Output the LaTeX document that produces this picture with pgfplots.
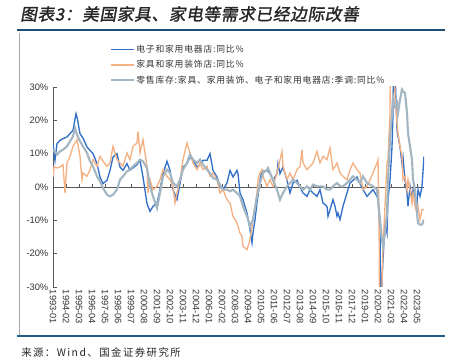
\documentclass[border=0pt]{standalone}
\usepackage{pgfplots}
\pgfplotsset{compat=1.18}
\usepackage{fontspec}
\setmainfont{Liberation Sans}
\newfontfamily\cjk{Noto Sans CJK SC}
\newfontfamily\cjklegend[LetterSpace=9]{Noto Sans CJK SC}
\newfontfamily\cjksource[LetterSpace=14]{Noto Sans CJK SC}
\newfontfamily\cjktitle[FakeSlant=0.18,FakeBold=1.6,LetterSpace=4]{Noto Sans CJK SC}
\definecolor{cblue}{RGB}{50,112,200}
\definecolor{corange}{RGB}{244,177,131}
\definecolor{cgray}{RGB}{163,182,194}
\definecolor{navy}{RGB}{31,78,121}
\definecolor{axgray}{RGB}{89,89,89}
\begin{document}
\begin{tikzpicture}
\useasboundingbox (0,0) rectangle (342.75pt,-272.25pt);
\node[anchor=west, inner sep=0pt, text=black!85] at (15pt,-10.5pt) {\fontsize{12.5}{14}\cjktitle 图表3：美国家具、家电等需求已经边际改善};
\draw[navy, line width=1.1pt] (12.75pt,-22.5pt) -- (333.75pt,-22.5pt);
\draw[black!35, line width=0.5pt] (14.25pt,-24.5pt) -- (14.25pt,-251pt);
\draw[navy!90!cyan, line width=1pt] (12.75pt,-252pt) -- (333.75pt,-252pt);
\node[anchor=west, inner sep=0pt, text=black!85] at (15.75pt,-264.75pt) {\fontsize{7.8}{9}\cjksource 来源：Wind、国金证券研究所};
\begin{axis}[
  at={(39.75pt,-215.25pt)}, anchor=south west,
  scale only axis, width=278.25pt, height=150pt,
  xmin=0, xmax=371, ymin=-30, ymax=30,
  enlargelimits=false,
  axis x line*=bottom, axis y line*=left,
  x axis line style={draw=none},
  y axis line style={-, axgray, line width=0.6pt},
  xtick={0,13,...,364},
  xticklabels={1993-01,1994-02,1995-03,1996-04,1997-05,1998-06,1999-07,2000-08,2001-09,2002-10,2003-11,2004-12,2006-01,2007-02,2008-03,2009-04,2010-05,2011-06,2012-07,2013-08,2014-09,2015-10,2016-11,2017-12,2019-01,2020-02,2021-03,2022-04,2023-05},
  x tick style={draw=none},
  x tick label style={rotate=-90, anchor=west, font=\fontsize{7}{8}\selectfont, text=black!80, inner sep=2pt},
  ytick={-30,-20,...,30},
  yticklabel={\pgfmathprintnumber{\tick}\%},
  y tick label style={font=\fontsize{7}{8}\selectfont, text=black!80},
  y tick style={axgray, line width=0.6pt},
  tick align=inside, major tick length=3pt,
  /pgf/number format/assume math mode=true,
  legend style={at={(0.1536,1.218)}, anchor=north west, draw=none, fill=none,
    inner sep=0pt, row sep=2.4pt, font=\fontsize{6.6}{7.5}\cjklegend, text=black!80,
    nodes={inner sep=1pt}},
  legend cell align=left,
  legend image code/.code={\draw[#1] (0pt,0pt) -- (17pt,0pt);},
]
\draw[axgray, line width=0.7pt] (axis cs:0,0) -- (axis cs:371,0);
\pgfplotsinvokeforeach{13,26,...,364}{\draw[axgray, line width=0.6pt] (axis cs:#1,0) -- ++(0pt,2.5pt);}
\addplot[cblue, line width=1pt] coordinates {
(0,13) (2,8) (4,13) (7,14) (10,14.5) (14,15) (17,16) (20,17) (23,22) (24,21) (27,16) (30,14.7) (34,12) (37,11) (40,10) (44,7) (47,3) (50,1) (54,2) (57,5) (60,9) (64,10) (67,6) (70,5) (74,7) (77,5) (80,5.7) (84,6.7) (87,8) (90,3) (94,-5) (97,-7.3) (100,-5.8) (104,-4.8) (107,-0.8) (110,4) (114,7.7) (117,5) (120,-0.8) (124,-3.8) (127,1) (130,6) (134,7) (137,9) (140,8) (144,6) (147,6.7) (150,8) (154,8) (157,10) (160,5) (164,3) (167,0.2) (170,-0.8) (174,1.2) (177,5) (180,3) (184,5) (185,4) (187,-1.8) (190,-3.8) (194,-7.8) (197,-12.8) (199,-16.8) (200,-13.8) (202,-9.8) (204,-4.8) (207,2) (209,5) (210,4.7) (214,5) (217,4) (220,2) (224,4) (225,7) (227,4) (230,6) (234,2) (237,-1.8) (240,1.2) (244,2) (247,0) (250,-1.8) (254,-2.8) (257,-0.8) (260,-1.8) (264,-2.8) (267,-0.8) (270,-4.8) (274,-5.8) (275,-8.8) (277,-6.8) (280,-3.8) (282,-5.8) (284,-8.8) (285,-7.8) (287,-9.8) (290,-5.8) (294,-1.8) (297,1.2) (300,2) (304,3) (307,1) (310,-0.8) (314,-2.8) (317,-1.8) (320,-0.8) (324,-2.8) (325,-3.8) (327,-12.8) (328,-45) (329,-28) (330,-21.8) (332,-10.8) (334,-13.8) (335,-3.8) (337,2) (339,12) (340,22) (341,60) (342,35) (344,17) (347,12) (349,7) (350,9) (352,2) (354,-1.8) (355,-5.8) (357,0.2) (359,-3.8) (360,-0.8) (364,-4.8) (365,-0.8) (367,-2.8) (369,0.2) (371,9.2)
};
\addlegendentry{电子和家用电器店:同比\%}
\addplot[corange, line width=1pt] coordinates {
(0,3) (1,6) (4,5.7) (7,6) (10,6.7) (12,-1.8) (14,7.2) (17,9.2) (20,12.2) (24,14.2) (27,9.2) (29,2.2) (30,4.2) (34,3.2) (37,5.2) (40,8.2) (44,6.2) (47,9.2) (50,7.7) (54,6.2) (57,7.2) (60,12.2) (64,8.2) (67,7.2) (70,6.2) (74,10.2) (77,8.2) (80,12.2) (84,13.2) (85,16.7) (87,10.2) (90,14.2) (94,6.2) (95,-1.8) (97,2.2) (100,-0.8) (104,0.2) (107,2.2) (110,5.2) (114,3.2) (117,2.2) (120,0.2) (122,-4.8) (124,-1.8) (127,2.2) (130,8.2) (134,13.2) (137,10.2) (140,7.2) (144,5.2) (147,7.2) (150,5.2) (154,6.2) (157,3.2) (160,4.2) (164,2.2) (167,-1.8) (170,-0.8) (174,-3.8) (177,-4.8) (180,-8.8) (184,-10.8) (187,-13.8) (189,-14.8) (190,-17.8) (194,-18.8) (197,-15.8) (200,-9.8) (204,-1.8) (205,2.2) (207,4.2) (209,5.2) (210,3.2) (214,0.2) (217,2.2) (220,0.2) (224,4.2) (227,8.2) (229,10.7) (230,6.2) (234,2.2) (237,4.2) (240,2.2) (244,5.2) (247,6.2) (249,11.2) (250,7.2) (254,5.2) (257,6.2) (260,7.2) (264,10.7) (267,7.2) (270,9.2) (274,8.2) (277,11.7) (280,5.2) (284,7.2) (287,4.2) (290,3.2) (294,2.2) (297,5.2) (300,7.2) (304,5.2) (307,4.2) (310,-0.8) (314,0.2) (317,2.2) (320,4.2) (324,7.2) (325,8.2) (326,-7.8) (327,-60) (328,-40) (330,-17.8) (332,-5.8) (334,7.2) (335,8.2) (337,22.2) (338,60) (339,140) (340,60) (342,27) (344,19.2) (345,16.2) (347,12.2) (349,9.2) (350,2.2) (352,3.2) (354,-0.8) (355,2.2) (357,-0.8) (359,-4.8) (360,-1.8) (362,-5.8) (364,-7.8) (365,-5.8) (367,-9.8) (369,-6.8) (371,-6.8)
};
\addlegendentry{家具和家用装饰店:同比\%}
\addplot[cgray, line width=1.6pt] coordinates {
(0,11.2) (4,9.7) (7,10.7) (10,11.2) (14,12.2) (17,13.7) (20,15.2) (22,17.7) (24,15.7) (27,13.7) (30,12.2) (34,10.2) (37,7.7) (40,6.2) (44,3.2) (47,1.7) (50,-0.3) (54,-2.3) (57,-2.8) (60,-2.3) (64,-0.8) (67,2.2) (70,3.2) (74,4.7) (77,5.2) (80,6.2) (84,7.2) (87,8.2) (90,7.7) (94,5.7) (97,0.2) (100,-2.8) (104,-6.3) (107,-1.8) (110,3.2) (114,5.2) (117,4.2) (120,1.2) (124,0.2) (127,2.2) (130,5.2) (134,7.2) (137,9.7) (140,8.2) (144,7.2) (147,8.2) (150,6.7) (154,5.2) (157,4.2) (160,2.7) (164,2.2) (167,0.7) (170,-0.8) (174,-0.8) (177,-1.3) (180,-0.8) (184,-1.8) (187,-2.8) (190,-5.8) (194,-8.8) (197,-11.8) (200,-9.8) (204,-2.8) (207,1.2) (210,4.2) (214,5.2) (215,5.7) (217,4.2) (220,2.2) (224,-0.8) (227,-3.8) (230,-1.8) (234,0.2) (237,1.2) (240,2.2) (244,1.2) (247,0.2) (250,-0.8) (254,0.2) (257,-0.8) (260,0.7) (264,0.2) (267,0.2) (270,0.2) (274,-0.8) (277,-0.8) (280,0.2) (284,1.2) (287,0.2) (290,0.2) (294,1.2) (297,2.2) (300,3.2) (304,2.2) (307,1.2) (310,3.2) (314,1.2) (317,0.7) (320,0.2) (324,-0.8) (325,-3.8) (327,-9.8) (329,-15.8) (330,-17.8) (332,-13.8) (334,-7.8) (335,2.2) (337,14.2) (339,22.2) (340,27.2) (342,24.2) (344,25.2) (345,22.2) (347,26.2) (349,29.2) (350,28.7) (352,28.2) (354,22.2) (355,16.2) (357,12.2) (359,8.2) (360,2.2) (362,-0.8) (364,-7.8) (365,-10.8) (367,-11.3) (369,-11.3) (371,-9.8)
};
\addlegendentry{零售库存:家具、家用装饰、电子和家用电器店:季调:同比\%}
\end{axis}
\end{tikzpicture}
\end{document}
